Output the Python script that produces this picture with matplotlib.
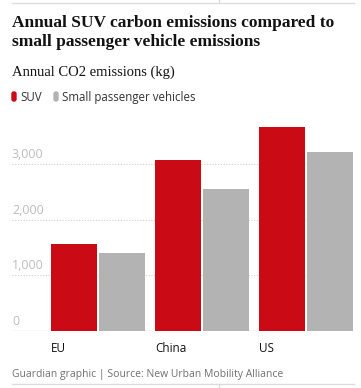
import numpy as np
import matplotlib
matplotlib.use('Agg')
import matplotlib.pyplot as plt
from matplotlib.patches import FancyBboxPatch
from matplotlib.lines import Line2D

# data
regions = ['EU', 'China', 'US']
suv = [1570, 3080, 3680]
small = [1410, 2550, 3220]
yticks = [0, 1000, 2000, 3000]

W, H = 361, 388
fig = plt.figure(figsize=(W / 100, H / 100), dpi=100)

def fx(px):
    return px / W

def fy(py):
    return 1 - py / H

red = '#ca0a14'
grey = '#b3b3b3'
sans = ['Open Sans', 'DejaVu Sans']
serif = ['Liberation Serif', 'DejaVu Serif']

# axes: left 12px, right 354px, zero line at 331px, top 120px
ax = fig.add_axes([fx(12), fy(331), fx(354) - fx(12), fy(120) - fy(331)])
x = np.arange(len(regions))
bw = 46 / 104
off = 48 / 104
ax.bar(x, suv, width=bw, align='edge', color=red, zorder=3)
ax.bar(x + off, small, width=bw, align='edge', color=grey, zorder=3)
ax.set_xlim(-39 / 104, 303 / 104)
ax.set_ylim(0, 3800)

for s in ax.spines.values():
    s.set_visible(False)
ax.set_xticks([])
ax.set_yticks([])
for t in yticks:
    if t == 0:
        ax.axhline(0, color='#dcdcdc', lw=1, zorder=2)
    else:
        ax.axhline(t, color='#cfcfcf', lw=0.8, ls=(0, (1, 1.5)), zorder=2)
    ax.text(-39 / 104, t + 55, f'{t:,}', color='#bdbdbd', fontsize=9,
            family=sans, ha='left', va='bottom')

for i, r in enumerate(regions):
    ax.text(i, -200, r, fontsize=8.5, family=sans, color='#121212',
            ha='left', va='top')

# title, subtitle
fig.text(fx(12), fy(27), 'Annual SUV carbon emissions compared to',
         fontsize=12.5, fontweight='bold', family=serif,
         color='#121212', va='baseline')
fig.text(fx(12), fy(46), 'small passenger vehicle emissions',
         fontsize=12.5, fontweight='bold', family=serif,
         color='#121212', va='baseline')
fig.text(fx(12), fy(76), 'Annual CO2 emissions (kg)', fontsize=10.5, family=serif,
         color='#121212', va='baseline')

# legend
for lx, col, lab in [(12, red, 'SUV'), (54, grey, 'Small passenger vehicles')]:
    fig.patches.append(FancyBboxPatch((fx(lx), fy(101)), fx(4), fy(92) - fy(101),
                                      boxstyle='round,pad=0,rounding_size=0.005',
                                      transform=fig.transFigure, color=col))
    fig.text(fx(lx + 8), fy(101), lab, fontsize=8.3, family=sans, color='#333333',
             va='baseline')

# footer
fig.text(fx(12), fy(377), 'Guardian graphic | Source: New Urban Mobility Alliance',
         fontsize=7.5, family=sans, color='#707070', va='baseline')

# top and bottom rules
for yy, y2 in [(3, 0), (384, 388)]:
    fig.add_artist(Line2D([fx(12), fx(354)], [fy(yy), fy(yy)], color='#dcdcdc', lw=1))
    fig.add_artist(Line2D([fx(219), fx(219)], [fy(yy), fy(y2)], color='#dcdcdc', lw=1))

fig.savefig('out.png', dpi=100)
